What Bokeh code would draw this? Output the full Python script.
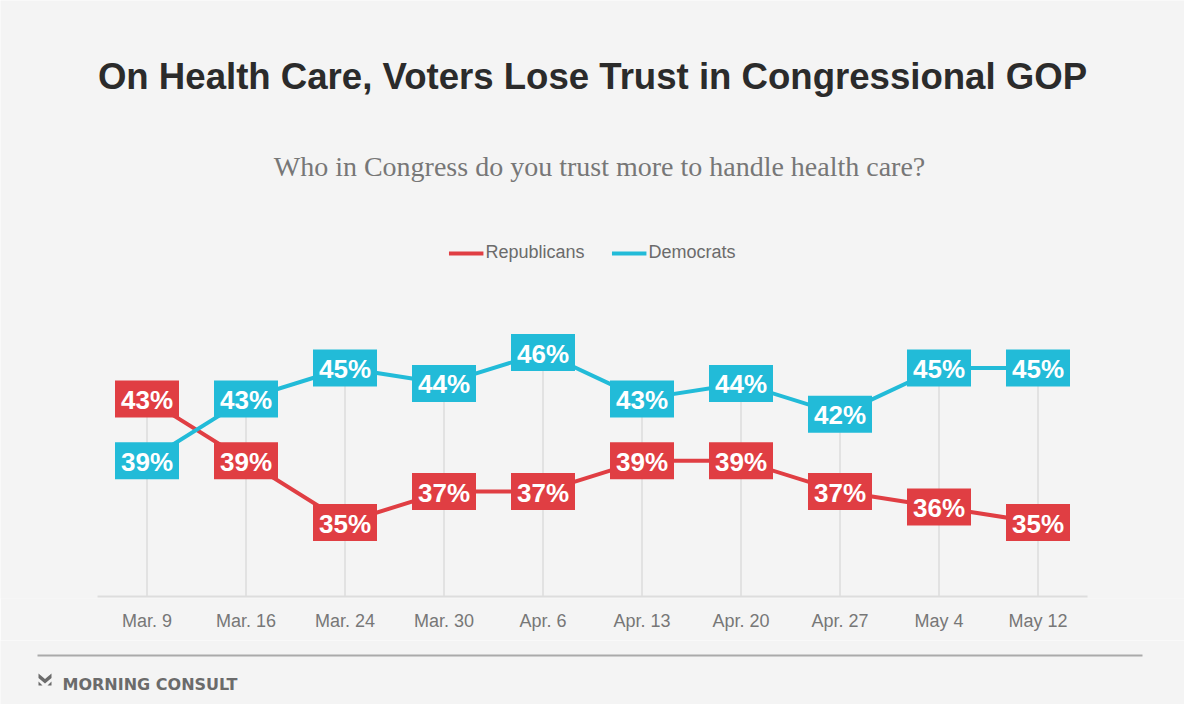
from bokeh.plotting import figure
from bokeh.models import ColumnDataSource, FactorRange, Label, Legend, LegendItem
from bokeh.layouts import column
from bokeh.transform import dodge
from bokeh.core.properties import value
from bokeh.embed import file_html
from bokeh.resources import INLINE

dates = ["Mar. 9", "Mar. 16", "Mar. 24", "Mar. 30", "Apr. 6",
         "Apr. 13", "Apr. 20", "Apr. 27", "May 4", "May 12"]
republicans = [43, 39, 35, 37, 37, 39, 39, 37, 36, 35]
democrats = [39, 43, 45, 44, 46, 43, 44, 42, 45, 45]

RED = "#e03e43"
BLUE = "#22bbd8"
BG = "#f4f4f4"
SANS = "Liberation Sans"

Y0 = 30.21           # baseline value
YB, YT = 30.081, 68.786

# ---------------- main chart ----------------
xr = FactorRange(factors=dates, range_padding=0.9798, range_padding_units="absolute")
p = figure(width=1184, height=640, x_range=xr, y_range=(YB, YT),
           output_backend="svg", toolbar_location=None,
           min_border_left=0, min_border_right=0, min_border_top=0, min_border_bottom=42)
p.background_fill_color = BG
p.border_fill_color = BG
p.outline_line_color = None
p.xgrid.visible = False
p.ygrid.visible = False
p.yaxis.visible = False

ax = p.xaxis[0]
ax.axis_line_color = None
ax.major_tick_line_color = None
ax.minor_tick_line_color = None
ax.major_label_standoff = 6
ax.major_label_text_font = SANS
ax.major_label_text_font_size = "18px"
ax.major_label_text_color = "#777777"

src = ColumnDataSource(dict(
    date=dates,
    rep=republicans,
    dem=democrats,
    top=[max(r, d) for r, d in zip(republicans, democrats)],
    base=[Y0] * len(dates),
    rep_txt=[f"{v}%" for v in republicans],
    dem_txt=[f"{v}%" for v in democrats],
))

# vertical guide lines
p.segment(x0="date", y0="base", x1="date", y1="top", source=src,
          line_color="#dcdcdc", line_width=1.5)

# baseline spanning the category band
base_src = ColumnDataSource(dict(first=[dates[0]], last=[dates[-1]], y=[Y0]))
p.segment(x0=dodge("first", -0.5, range=xr), y0="y",
          x1=dodge("last", 0.5, range=xr), y1="y", source=base_src,
          line_color="#dddddd", line_width=2)

r_line = p.line(x="date", y="rep", source=src, line_color=RED, line_width=4)
d_line = p.line(x="date", y="dem", source=src, line_color=BLUE, line_width=4)

for col, txt, color in (("rep", "rep_txt", RED), ("dem", "dem_txt", BLUE)):
    p.rect(x="date", y=col, width=64, height=37, width_units="screen",
           height_units="screen", source=src, fill_color=color, line_color=None)
    p.text(x="date", y=col, text=txt, source=src, text_color="white",
           text_font=value(SANS), text_font_style="bold", text_font_size="26px",
           text_align="center", text_baseline="middle", y_offset=1)

legend = Legend(items=[LegendItem(label="Republicans", renderers=[r_line]),
                       LegendItem(label="Democrats", renderers=[d_line])],
                orientation="horizontal", location="top_center",
                glyph_width=35, glyph_height=20, label_standoff=2, spacing=27,
                padding=0, margin=242, background_fill_alpha=0, border_line_color=None,
                label_text_font=SANS, label_text_font_size="18px",
                label_text_color="#6b6b6b")
p.add_layout(legend)

# titles (screen units relative to frame bottom-left)
p.add_layout(Label(x=592, y=522, x_units="screen", y_units="screen",
                   text="On Health Care, Voters Lose Trust in Congressional GOP",
                   text_font=SANS, text_font_style="bold", text_font_size="36.6px",
                   text_color="#2b2b2b", text_align="center", text_baseline="alphabetic"))
p.add_layout(Label(x=599, y=432, x_units="screen", y_units="screen",
                   text="Who in Congress do you trust more to handle health care?",
                   text_font="Liberation Serif", text_font_size="28px",
                   text_color="#777777", text_align="center", text_baseline="alphabetic"))

# ---------------- footer ----------------
f = figure(width=1184, height=64, x_range=(0, 1184), y_range=(0, 64),
           output_backend="svg", toolbar_location=None,
           min_border=0, min_border_left=0, min_border_right=0,
           min_border_top=0, min_border_bottom=0)
f.axis.visible = False
f.grid.visible = False
f.background_fill_color = BG
f.border_fill_color = BG
f.outline_line_color = None

f.segment(x0=[37], y0=[49], x1=[1142], y1=[49], line_color="#aaaaaa", line_width=2)
f.patches(xs=[[38, 44.5, 51, 51, 44.5, 38], [38, 42, 38], [51, 47, 51]],
          ys=[[31, 25.5, 31, 26.5, 21, 26.5], [23, 19, 19], [23, 19, 19]],
          fill_color="#6b6b6b", line_color=None)
f.text(x=[62], y=[20], text=["MORNING CONSULT"], text_font=value("DejaVu Sans"),
       text_font_style="bold", text_font_size="16px", text_color="#6b6b6b",
       text_baseline="alphabetic")

layout = column(p, f, spacing=0)
open("out.html", "w").write(file_html(layout, INLINE))
